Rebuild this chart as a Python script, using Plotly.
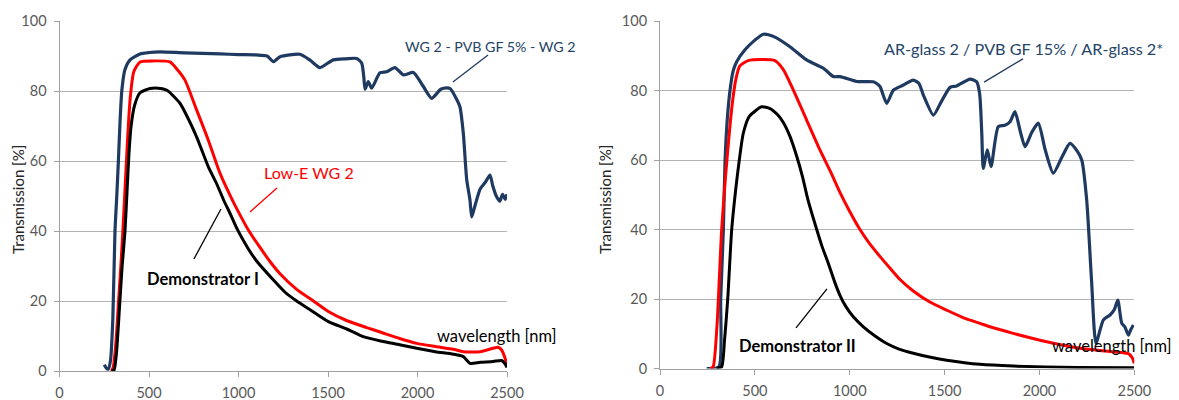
import plotly.graph_objects as go

# ---------------- Left panel data ----------------
wl_blue_L = [250, 262, 272, 285, 298, 310, 320, 329, 338, 348, 365, 394, 450, 500, 561, 700, 900, 1000,
             1100, 1160, 1195, 1232, 1343, 1400, 1455, 1529, 1600, 1660, 1688, 1700, 1707, 1725, 1744,
             1790, 1828, 1874, 1921, 1977, 2030, 2079, 2130, 2163, 2182, 2220, 2237, 2256, 2275, 2293,
             2303, 2320, 2350, 2380, 2405, 2420, 2440, 2460, 2475, 2490, 2500]
t_blue_L = [1.8, 0.8, 0.5, 3, 15, 40, 50, 60, 71, 80, 86, 88.9, 90.6, 91, 91.2, 90.9, 90.6, 90.4,
            90.3, 90, 88.4, 89.8, 90.5, 88.8, 86.7, 88.9, 89.2, 89.3, 88, 84, 80.5, 82.7, 80.8,
            85.2, 85.5, 86.7, 84.6, 85.3, 81.5, 77.9, 80.5, 80.9, 80.7, 77.5, 75.5, 67.9, 54.6, 48.9,
            44, 47, 52, 54, 56, 53, 50, 48.5, 50.5, 49, 50.5]

wl_red_L = [290, 300, 315, 330, 345, 356, 368, 380, 395, 415, 450, 520, 617, 660, 701, 766, 831, 887,
            915, 953, 990, 1055, 1120, 1180, 1232, 1325, 1418, 1502, 1600, 1716, 1800, 1900, 1996,
            2100, 2200, 2256, 2350, 2422, 2450, 2470, 2490, 2500]
t_red_L = [0, 1, 8, 20, 32, 42, 54, 66, 78, 85.5, 88.3, 88.6, 88.3, 86, 83.1, 74.6, 66, 57.8,
           54.3, 50.2, 46.4, 40.3, 35.3, 31, 27.8, 23.3, 20, 17, 14.5, 12.4, 11, 9.3, 7.9,
           7, 6.2, 5.5, 5.5, 6.5, 6.8, 6, 3.5, 1.2]

wl_black_L = [290, 305, 318, 335, 350, 366, 378, 388, 400, 420, 450, 506, 550, 600, 673, 720, 766, 831,
              878, 920, 953, 990, 1050, 1100, 1195, 1260, 1325, 1400, 1502, 1605, 1697, 1800, 1900,
              1996, 2100, 2200, 2256, 2293, 2350, 2422, 2470, 2490, 2500]
t_black_L = [0, 0.3, 5, 18, 30, 40, 52, 62, 70, 76, 79.5, 80.7, 80.8, 80.2, 76.5, 72, 66.9, 58.4,
             53.5, 48.5, 45, 40.8, 35.3, 31.5, 26, 22.5, 20, 17.5, 14.1, 12, 9.8, 8.5, 7.5,
             6.5, 5.5, 4.8, 4.1, 2.2, 2.5, 2.7, 3, 2, 1]

# ---------------- Right panel data ----------------
wl_blue_R = [246, 310, 320, 334, 343, 355, 369, 385, 404, 448, 500, 545, 600, 685, 773, 861, 914, 949,
             1037, 1124, 1142, 1160, 1195, 1230, 1280, 1335, 1365, 1388, 1441, 1480, 1529, 1564, 1634,
             1669, 1685, 1696, 1704, 1725, 1745, 1783, 1818, 1845, 1871, 1900, 1924, 1960, 1994, 2030,
             2073, 2120, 2161, 2200, 2223, 2249, 2275, 2298, 2337, 2372, 2395, 2413, 2434, 2450, 2469,
             2480, 2495]
t_blue_R = [0, 0.5, 20, 40, 60, 72, 80, 85.5, 88.3, 91.7, 94.5, 96.2, 95.5, 92.6, 88.8, 86.4, 84, 84,
            82.6, 82.5, 82, 81.1, 76.3, 80.1, 81.5, 83, 82, 78.7, 72.9, 76.5, 80.9, 81.3, 83.3,
            82.5, 79, 67.7, 57.6, 62.9, 58.1, 69.6, 70, 71, 73.9, 68, 63.8, 68, 70.6, 63,
            56.2, 61, 64.8, 62.5, 60, 48.5, 25, 7.3, 14, 15.4, 17, 19.7, 13, 12, 9.6,
            11, 12.5]

wl_red_R = [265, 280, 300, 325, 345, 369, 385, 399, 420, 465, 606, 650, 703, 773, 843, 900, 949, 1000,
            1054, 1100, 1160, 1212, 1265, 1335, 1420, 1511, 1600, 1687, 1739, 1862, 2038, 2214, 2389,
            2469, 2490, 2500]
t_red_R = [0, 0.5, 12, 40, 55, 70, 78, 83, 87, 88.6, 88.6, 86, 80.1, 71.5, 62.9, 56.5, 50.6, 45.2,
           40, 36.3, 32.2, 28.9, 25.6, 22.3, 19.2, 16.8, 14.6, 13, 12, 10.1, 7.7, 5.8, 4.8,
           4.3, 3, 1.5]

wl_black_R = [300, 325, 340, 357, 378, 400, 418, 439, 470, 536, 580, 620, 650, 685, 721, 752, 780, 826,
              855, 887, 920, 949, 980, 1020, 1072, 1130, 1195, 1260, 1335, 1420, 1511, 1687, 1862,
              2200, 2500]
t_black_R = [0, 0.5, 8, 20, 40, 52, 60, 67.7, 72.5, 75.3, 74.8, 73, 70.8, 66.8, 61, 55, 48.5, 40,
             35, 30.3, 25, 21, 17.8, 14.8, 12, 9.5, 7.2, 5.6, 4.4, 3.3, 2.4, 1.2, 0.7,
             0.3, 0.2]

x_ticks = [0, 500, 1000, 1500, 2000, 2500]
y_ticks = [0, 20, 40, 60, 80, 100]

BLUE = "#1F3A60"
BLUE_TXT = "#244366"
RED = "#FF0000"
BLACK = "#000000"
GRID = "#B4B4B4"
AXIS = "#A0A0A0"
TICKTXT = "#595959"
FONT = "Lato"

fig = go.Figure()

def add(x, y, color, width, xa, ya):
    fig.add_trace(go.Scatter(x=x, y=y, mode="lines",
                             line=dict(color=color, width=width, shape="spline", smoothing=0.6),
                             xaxis=xa, yaxis=ya, showlegend=False, hoverinfo="skip"))

add(wl_blue_L, t_blue_L, BLUE, 3.2, "x", "y")
add(wl_red_L, t_red_L, RED, 3, "x", "y")
add(wl_black_L, t_black_L, BLACK, 3, "x", "y")
add(wl_blue_R, t_blue_R, BLUE, 3.2, "x2", "y2")
add(wl_red_R, t_red_R, RED, 3, "x2", "y2")
add(wl_black_R, t_black_R, BLACK, 3, "x2", "y2")

W, H = 1179, 400
xcommon = dict(range=[0, 2500], tickvals=x_ticks, showgrid=False, zeroline=False, showline=True,
               linecolor=AXIS, linewidth=1, ticks="outside", ticklen=5, tickcolor=AXIS,
               tickfont=dict(family=FONT, size=14.5, color=TICKTXT), ticklabelstandoff=4,
               automargin=False, fixedrange=True)
ycommon = dict(range=[0, 100], tickvals=y_ticks, showgrid=True, gridcolor=GRID, gridwidth=1, zeroline=False,
               showline=True, linecolor=AXIS, linewidth=1, ticks="outside", ticklen=5, tickcolor=AXIS,
               tickfont=dict(family=FONT, size=14.5, color=TICKTXT), ticklabelstandoff=4,
               automargin=False, fixedrange=True)

fig.update_layout(
    width=W, height=H, margin=dict(l=0, r=0, t=0, b=0, autoexpand=False),
    paper_bgcolor="white", plot_bgcolor="white",
    xaxis=dict(domain=[59.5 / W, 507 / W], anchor="y", **xcommon),
    yaxis=dict(domain=[(H - 371) / H, (H - 21) / H], anchor="x", **ycommon),
    xaxis2=dict(domain=[660 / W, 1134.3 / W], anchor="y2", **xcommon),
    yaxis2=dict(domain=[(H - 368.5) / H, (H - 21) / H], anchor="x2", **ycommon),
)

ann = []
def txt(t, x, y, color, xref, yref, bold=False, size=15):
    ann.append(dict(text=("<b>%s</b>" % t) if bold else t, x=x, y=y, xref=xref, yref=yref,
                    xanchor="left", yanchor="middle", showarrow=False,
                    font=dict(family=FONT, size=size, color=color)))

txt("WG 2 - PVB GF 5% - WG 2", 1919, 92.6, BLUE_TXT, "x", "y", size=14.2)
txt("Low-E WG 2", 1131, 56.6, RED, "x", "y", size=16)
txt("Demonstrator I", 478, 26.3, BLACK, "x", "y", bold=True, size=16.5)
txt("wavelength [nm]", 2098, 10, BLACK, "x", "y", size=16.5)
txt("AR-glass 2 / PVB GF 15% / AR-glass 2*", 1170, 92.2, BLUE_TXT, "x2", "y2", size=16.2)
txt("Demonstrator II", 406, 6.5, BLACK, "x2", "y2", bold=True, size=16.5)
txt("wavelength [nm]", 2056, 6.5, BLACK, "x2", "y2", size=16.5)

for xp in (18, 605):
    ann.append(dict(text="Transmission [%]", x=xp / W, y=(H - 200) / H, xref="paper", yref="paper",
                    textangle=-90, showarrow=False, xanchor="center", yanchor="middle",
                    font=dict(family=FONT, size=15, color="#262626")))
fig.update_layout(annotations=ann)

shapes = []
def seg(x0, y0, x1, y1, color, xref, yref):
    shapes.append(dict(type="line", x0=x0, y0=y0, x1=x1, y1=y1, xref=xref, yref=yref,
                       line=dict(color=color, width=1.3)))

seg(2394, 90.3, 2198, 82.6, BLUE, "x", "y")
seg(1215, 52.3, 1064, 45.4, RED, "x", "y")
seg(902, 46.3, 751, 32, BLACK, "x", "y")
seg(1913, 89.1, 1708, 82.4, BLUE, "x2", "y2")
seg(880, 22.9, 717, 11.7, BLACK, "x2", "y2")
fig.update_layout(shapes=shapes)

fig.write_html("out.html", config={"responsive": False, "displayModeBar": False},
               post_script="document.body.style.margin='0';document.body.style.overflow='hidden';")
